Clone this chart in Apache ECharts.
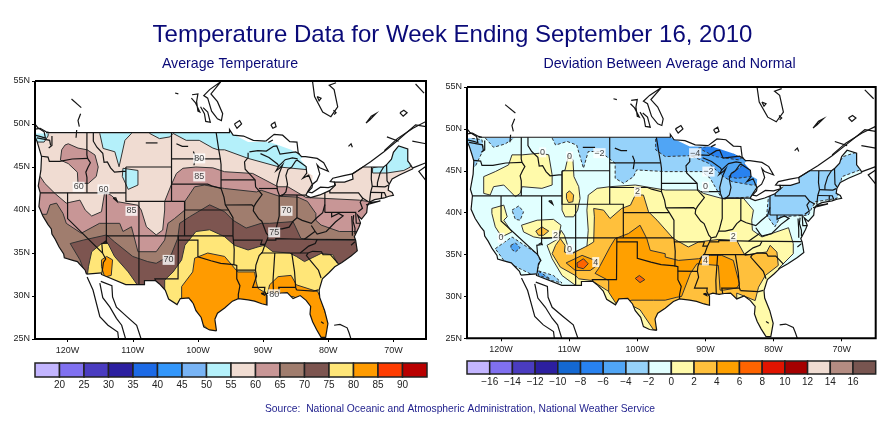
<!DOCTYPE html>
<html><head><meta charset="utf-8">
<style>html,body{margin:0;padding:0;background:#fff}#c{width:895px;height:423px}</style>
<script src="https://cdn.jsdelivr.net/npm/echarts@6/dist/echarts.min.js"></script></head>
<body><div id="c"></div>
<script>
// ---------- text ----------
const titleText='Temperature Data for Week Ending September 16, 2010';
const leftTitle='Average Temperature';
const rightTitle='Deviation Between Average and Normal';
const sourceText='Source:  National Oceanic and Atmospheric Administration, National Weather Service';
const lonTicks=[70,80,90,100,110,120];
// ---------- legends ----------
const tempTicks=[20,25,30,35,40,45,50,55,60,65,70,75,80,85,90];
const tempColors=['#C3B5FF','#8070F0','#4A3CC0','#2C1FA0','#1C6AE6','#3296FA','#78B4F5','#B4F0FA','#F0DCD2','#C89696','#A07D6E','#7D5550','#FFE678','#FF9B00','#FF3C00','#B90000'];
const devTicks=[-16,-14,-12,-10,-8,-6,-4,-2,0,2,4,6,8,10,12,14,16];
const devColors=['#C3B5FF','#8070F0','#4A3CC0','#2C1FA0','#1468D2','#2882F0','#50A5F5','#96D2FA','#E1FFFF','#FFFAAA','#FFC03C','#FFA000','#FF6400','#E11400','#A50000','#F0DCD2','#B48C82','#785550'];
// ---------- geography: [degrees west, degrees north] ----------
const pacific=[[125.2,48.9],[124.7,48.0],[124.3,47],[124.0,46.2],[124.1,44.6],[124.5,42.8],[124.2,42],[124.4,40.4],[123.8,39.3],[123,38.3],[122.5,37.8],[122.4,37.2],[121.9,36.6],[121.3,35.7],[120.6,34.9],[120.5,34.45],[119.2,34.15],[118.5,34],[118.2,33.75],[117.3,33],[117.1,32.55]];
const mexicoBorder=[[114.75,32.7],[114.8,32.5],[111.07,31.33],[108.2,31.33],[108.2,31.78],[106.5,31.78],[105.9,31.4],[105,30.65],[104.5,29.65],[103.2,29],[102.7,29.7],[101.4,29.77],[100.7,29.1],[100.3,28.3],[99.5,27.5],[99.1,26.4],[98.2,26.05],[97.15,25.95]];
const gulfAtlantic=[[97.4,27.3],[97,28],[95.9,28.6],[94.7,29.4],[93.8,29.7],[92.3,29.55],[91.3,29.4],[90.2,29.1],[89.4,28.95],[89.4,30.05],[89.6,30.2],[88.9,30.4],[88,30.25],[87.2,30.35],[86.3,30.4],[85.4,29.7],[84.3,30.05],[83.4,29.5],[82.7,28.8],[82.8,27.9],[82.4,27],[81.8,26.1],[81.1,25.2],[80.4,25.2],[80.05,26.8],[80.55,28.3],[81.3,29.8],[81.4,30.7],[80.9,32],[79.9,32.7],[79,33.4],[77.9,33.9],[76.5,34.65],[75.55,35.25],[75.8,36.5],[76,36.9],[75.3,38],[75.05,38.5],[75.5,39.4],[74.9,38.95],[74.1,39.7],[74,40.45],[73.7,40.9],[72.9,41.2],[71.4,41.4],[70.7,41.6],[70,41.7],[70.2,42.05],[70.8,42.3],[70.7,42.9],[70.2,43.6],[69,44.1],[67,44.8]];
const neBorder=[[67.4,45.3],[67.8,45.7],[67.8,47.1],[69.2,47.45],[70,46.7],[70.3,45.9],[71,45.3],[71.5,45],[74.7,45],[76.3,44.2],[76.2,43.6],[77.5,43.25],[79.05,43.25],[78.9,42.9],[79.8,42.25],[81.3,41.75],[82.7,41.45],[83.45,41.7]];
const lakeFillEdge=[[82.5,43],[82.4,44],[83.3,44.4],[83.4,45.1],[84.3,45.9],[83.9,46.2],[84.4,46.4],[85.7,47],[89,47.9],[92.3,47.9],[95.15,49]];
const outline=[...pacific,...mexicoBorder,...gulfAtlantic,...neBorder,...lakeFillEdge];
const maskShape=[[126,48.9],[126,56],[64,56],[64,24],[126,24],[126,48.9],...outline,[125.2,48.9]];
const frameShape=[[125,55],[65,55],[65,25],[125,25],[125,55]];
const geoLines=[pacific,mexicoBorder,gulfAtlantic,neBorder,
[[117.1,32.55],[114.75,32.7]],[[97.15,25.95],[97.4,27.3]],[[67,44.8],[67.4,45.3]],
[[123.3,49],[95.15,49],[95.15,49.35],[94.6,48.7],[93,48.6],[91.5,48.1],[89.6,48]],
// states
[[124,46.25],[123,46.15],[122.8,45.65],[121.2,45.65],[119.3,45.93],[116.92,46]],
[[117.03,49],[117.04,46.4],[116.92,46],[116.5,45.5],[116.85,45],[117.2,44.4],[117.03,43.8],[117.03,42]],
[[124.2,42],[111.05,42]],[[120,42],[120,39],[114.63,35],[114.15,34.3],[114.5,33.9],[114.72,32.72]],
[[114.05,42],[114.05,36.2],[114.75,36.1],[114.63,35]],[[114.05,37],[94.62,37]],[[109.05,41],[109.05,31.33]],
[[111.05,45],[104.05,45]],[[111.05,45],[111.05,41],[104.05,41]],
[[116.05,49],[116.05,48],[115.5,47.3],[114.6,46.6],[114.4,45.55],[113.9,45.6],[113.4,44.9],[112.8,44.4],[111.5,44.5],[111.05,44.5]],
[[104.05,49],[104.05,41]],[[104.05,45.94],[96.56,45.94]],[[104.05,43],[98.5,43],[97.9,42.8],[96.45,42.5]],
[[104.05,41],[102.05,41],[102.05,37]],[[102.05,40],[95.3,40]],
[[103,37],[103.05,32],[106.6,32],[106.5,31.78]],[[103,36.5],[100,36.5],[100,34.56],[98,34.1],[96.5,33.8],[94.48,33.64]],
[[94.62,37],[94.43,35.4],[94.48,33.64],[94.04,33.55],[94.04,32],[93.55,31.2],[93.8,30.2],[93.8,29.7]],[[94.04,33.02],[91.17,33]],
[[97.2,49],[96.8,47],[96.56,45.94],[96.45,45.3],[96.45,42.5],[96,41.5],[95.8,40.6],[95.3,40],[94.62,39.1],[94.62,37]],
[[96.45,43.5],[91.22,43.5]],[[95.77,40.58],[91.73,40.6],[91.42,40.38]],
[[92.3,46.66],[92.3,46.1],[92.85,45.6],[92.75,44.75],[91.22,43.5],[91.15,42.7],[90.15,41.8],[91.1,40.8],[91.42,40.38],[91.5,39.9],[90.7,39],[90.2,38.7],[89.5,37.3],[89.15,37],[89.4,36.5],[89.7,36],[90.1,35.1],[90.6,34.7],[91.1,33.6],[91.17,33],[91,32.3],[91.6,31],[89.73,31],[89.8,30.6],[89.55,30.2]],
[[94.62,36.5],[90.15,36.5],[90.37,36],[89.7,36]],[[90.65,42.5],[87.8,42.5]],[[90.4,46.55],[89.1,46.1],[87.8,45.35],[87.6,45.1]],
[[87.53,41.7],[87.53,39.3],[87.95,38],[88.05,37.8]],
[[89.15,37],[88.45,37.1],[88.05,37.8],[87.1,37.8],[86,38],[85.4,38.7],[84.8,39.1],[84,38.8],[82.6,38.45],[81.75,39.1],[80.85,39.7],[80.52,40.64]],
[[84.8,39.1],[84.8,41.75]],[[87.2,41.76],[83.45,41.73]],[[80.52,42],[80.52,39.72]],[[79.76,42.27],[79.76,42],[75.35,42],[74.7,41.36],[75.1,40.9],[74.75,40.2],[75.4,39.8]],[[74.7,41.36],[73.9,41]],
[[80.52,39.72],[75.79,39.72],[75.7,38.46],[75.05,38.46]],[[79.48,39.72],[79.48,39.2],[78.4,39.6],[77.72,39.32],[78.9,38.6],[80.3,37.5],[81.7,37.2],[82,37.5],[82.6,38.2]],
[[82,37.53],[83.67,36.6]],[[89.4,36.5],[88.05,36.5],[88.05,36.68],[83.67,36.6],[75.87,36.55]],[[81.68,36.59],[82,36.1],[83,35.8],[84.3,35]],[[90.3,35],[83.1,35],[82.4,35.2],[81.05,35.15],[80.8,34.82],[79.67,34.8],[78.55,33.85]],
[[83.1,35],[83.35,34.7],[82.6,34],[81.5,33],[81.1,32.1]],[[81.5,30.72],[82.2,30.57],[84.86,30.7]],[[85.6,35],[85.18,32.87],[85,31],[84.86,30.7]],[[85,31],[87.6,31],[87.45,30.3]],[[88.2,35],[88.47,31.9],[88.4,30.25]],
[[71.5,45],[72.05,44.3],[72.45,43.2],[72.46,42.73]],[[73.35,45],[73.4,43.6],[73.25,42.75],[73.5,42.05],[73.65,41]],[[71.05,45.3],[70.98,43.4],[70.7,43.07]],[[73.27,42.75],[71.3,42.7],[70.8,42.87]],[[73.5,42.05],[71.38,42.02],[71.1,41.5]],[[71.8,42.02],[71.85,41.32]],
// Great Lakes shores
[[92.1,46.75],[90.8,46.9],[89.5,46.85],[88.4,47.4],[87.9,47.45],[87.4,46.5],[85,46.75],[84.4,46.5]],
[[84.7,45.95],[85.5,46.05],[86.6,45.85],[87.6,45.1],[88,44.55],[87.4,44.9],[87,45.25],[87.5,44.3],[87.9,43],[87.8,42.3],[87.5,41.7],[87.1,41.65],[86.5,42.1],[86.25,43],[86.5,44],[86.2,44.7],[85.6,45],[85,45.7],[84.75,45.78],[83.4,45.05],[83.3,44.3],[83.9,43.7],[83,44.05],[82.45,43],[83.1,42.2],[83.45,41.7]],
[[89.2,47.85],[88.5,48.15]],
[[89.6,48],[88.3,48.8],[87,48.7],[85.9,47.95],[84.8,47.9],[84.6,46.6],[84.1,46.2],[83.5,46.2],[81.7,46],[80.7,45.5],[80,44.5],[81.3,44.9],[81.7,45.25],[81.3,44.2],[81.75,43.4],[82.4,43],[82.5,42.6],[83.1,42.1],[82.5,42],[81.2,42.65],[80,42.6],[79,42.85],[79.05,43.25],[79.7,43.3],[79.3,43.7],[77.6,44],[76.3,44.2],[74.7,45],[73.5,45.6],[71.4,46.8],[69.5,48],[66.6,49.9],[65,49.7]],
// Canada
[[71.4,46.9],[69.4,48.3],[67,49.5],[65,50.3]],[[71,48.5],[69.2,48]],[[67.1,48],[65,47.7]],[[67,44.9],[65,45.5]],[[65,43.4],[66.1,44.5],[65,45.1]],[[66.6,54.65],[65.3,53.6]],
[[82.4,54.9],[82.1,53.2],[80.85,51.4],[79.6,50.85],[78.55,52],[79.1,54],[79.85,54.5],[78.8,54.8]],[[81.7,53.2],[81.1,53],[81.4,52.7],[81.7,53.2]],[[79.2,51.6],[78.8,51.3],[79.1,51.1]],
[[88.8,49.9],[88.2,50.2],[88,49.7],[88.5,49.5],[88.8,49.9]],[[94.4,50],[93.6,50.4],[93.3,50],[94,49.5],[94.4,50]],
[[69,51.3],[68.4,51.6],[67.9,51.3],[68.5,50.9],[69,51.3]],[[74.2,50.1],[73.4,50.9],[72.7,51.2],[73.6,50.5],[74.2,50.1]],[[76.9,47.4],[76.5,47.7],[76.3,47.3]],
[[96.5,54.9],[98.2,54],[99.1,53.3],[98.5,53],[97.9,51.5],[97,50.6],[96.4,50.4],[96.2,51.2],[97,52.6],[98,53.5],[96.5,54.9]],[[100.9,53.4],[100,53.5],[100.2,52.6],[100,51.5],[99.7,51.4],[100.4,52.5],[101,53]],[[99.6,52],[99,51.2],[98.8,50.3],[98.1,50.2],[98.5,51.4],[99.2,51.9]],[[103.5,53.6],[103,53.5]],
[[119.4,52.9],[117.9,51.9]],[[118,51.2],[118.4,50.4],[118.2,49.7]],[[118.6,49.3],[118.7,48.4]],
[[125,49.4],[124.2,49.5],[123.3,49.1],[122.8,49]],[[125,48.7],[124,48.5],[123.4,48.35],[123.6,49.1],[124.6,49.6],[125,50]],[[124.7,48.38],[123.1,48.15],[122.75,48.1],[122.6,47.5]],[[122.4,48.6],[122.4,47.5],[122.9,47.2]],
// inland water
[[108,47.8],[106.2,47.8]],[[103.3,47.7],[102.4,47.4],[101.5,47.4]],[[100.7,46.8],[100.4,46.2],[100.6,45.2]],[[113,41.4],[112.4,41],[112.6,41.4],[113,41.4]],[[114.5,36.2],[114.1,36.4],[113.9,36.1]],[[81.1,27],[80.7,26.8]],[[90.3,30.3],[89.9,30.35],[89.8,30.1],[90.3,30.3]],
[[74.2,40.6],[72,41.05],[73.7,40.85]],[[76.4,39.3],[76.3,38],[76.3,37]],[[75.9,37.2],[75.9,37.9],[76.2,38.7],[76.1,39.4]],[[76.5,35.9],[75.9,36.3]],
// Baja, Mexico, Bahamas
[[117,32.2],[116.1,30.7],[115.05,27.6],[113.8,26.6],[112.3,25.8],[112.1,24.5]],[[115.05,31.5],[114.6,29.8],[113.5,28.7],[112.5,27.4],[111.7,26.6],[110.9,24.5]],[[114.9,31.7],[113.2,31.2],[113.1,29.9],[112.5,28.7],[110.9,27.6],[109.4,26.6],[108.5,24.5]],
[[79.1,26.6],[78.2,26.7],[77.1,26.3],[76.8,25.7],[76.3,24.5]]];
// ---------- average temperature regions: [band floor in F, boundary] ----------
const tempRegions=[
[55,[[126,56],[64,56],[64,24],[126,24]]],
[50,[[115.06,48.9],[114.55,47.16],[112.75,46.77],[112.1,45.03],[111.2,48.1],[110.2,48.9],[110.2,50],[115.06,50]]],
[50,[[125.2,49.5],[125.2,47.9],[123.6,47.9],[123,48.6],[122.9,49.5]]],
[50,[[107.4,48.9],[105.9,48.3],[104.3,48.5],[103.8,48.9],[101.8,48.1],[99.8,48.1],[97.7,47.2],[96.9,47],[95.9,47],[92.3,46],[87.5,45],[83.4,44.7],[82,44.4],[82,50],[107.4,50]]],
[50,[[111.5,44.85],[109.2,44.6],[109.2,42.9],[110.7,42.4],[111.6,43.9]]],
[50,[[71.5,45.2],[70.3,46.5],[69.4,47.5],[67.5,47.5],[67.4,45],[68.4,44.6],[71,44.3],[73.2,44.3],[73.2,44.9]]],
[60,[[120.4,47.55],[119.9,47.7],[118.4,47.2],[117,47],[115.8,46.4],[115.3,45],[115.6,43.9],[116.8,43.1],[118.4,43.1],[118.5,44.4],[119.9,45.4],[121.1,45.8],[120.9,47]]],
[60,[[126,44.2],[124.2,43.9],[123.5,43.1],[121.9,41.9],[120.2,40.8],[118.1,41.15],[117.3,40],[116.3,39.3],[114.8,39.8],[114.3,42.1],[113.3,41.7],[112.2,40.95],[109.2,40.55],[108.7,40],[107.9,38.05],[106.4,37.1],[105.4,37.67],[105.1,40],[105.1,41],[104.1,42.9],[103.3,44.25],[102.3,44.85],[100.3,45],[97.7,44.9],[95.9,44.45],[91.6,44.25],[87.7,42.7],[86.2,42.7],[83.4,41.45],[80.6,41.35],[75.25,41.15],[74,41],[72,40.8],[72,24],[126,24]]],
[65,[[126,39.5],[123.2,39.5],[122.7,40.6],[121.7,40.8],[120.7,39.6],[120.2,38.45],[117.9,37.3],[115.1,38.45],[112,38.45],[111.5,37.5],[110.2,38.05],[109.2,35.15],[106.4,35.15],[105.1,36.5],[104.6,38.45],[103.6,39],[102,40],[102,41],[100.5,42.7],[99,42.9],[95.9,42.5],[91,42.1],[90.3,42.3],[87.5,41.6],[84.7,41.5],[83.2,41],[81.9,39.6],[81.9,38.8],[81.1,38.25],[78.3,37.5],[76.3,37.5],[72,37.5],[72,24],[126,24]]],
[70,[[119.6,36.1],[117.6,36.5],[114,37.1],[112.8,36.3],[110,34.6],[107.7,34],[106.4,33.8],[104.1,34.8],[103.1,36.7],[102.8,38.45],[101.3,39.2],[98.2,40.6],[95.9,39.8],[94.6,38.8],[92.6,37.9],[90.3,38.45],[89,38.45],[85.4,38.65],[84.2,36.7],[81.6,36.5],[76.5,36.5],[72,36.5],[72,24],[117.5,24],[117.5,33],[118.1,34.2]]],
[75,[[114.8,36.1],[116.3,35.15],[116.8,33.4],[117,32.2],[117,30],[111.5,30],[109.4,31.4],[110.7,32.8],[112.8,34.6],[113.8,36.1]]],
[80,[[114.8,34.2],[114,34.6],[113.1,34.2],[113.3,32.4],[114.3,32.2],[114.8,33.4]]],
[75,[[105.1,31.85],[103.8,32.8],[102.5,34.2],[102,35.9],[100.3,37.5],[98.2,37.7],[95.9,36.9],[94.4,35.9],[92.3,35.35],[90.8,35.7],[89.8,35.9],[88.5,35.15],[85.95,35],[84.9,34.6],[83.65,34],[81.1,34.95],[79.3,34.8],[78.6,33.8],[76,33.5],[76,24],[105.1,24]]],
[80,[[102.5,29.7],[102.5,31.1],[100.8,32.8],[100.5,34.4],[98.5,35],[95.9,34.6],[93.9,32.8],[91.3,32.8],[91.05,31.65],[90.8,30.9],[89.5,30.3],[89.5,27],[97.7,25],[97.7,25.6],[99.7,27],[101,29.5]]],
[80,[[89,31.3],[87.7,32.25],[85.7,32.4],[84.9,31.3],[81.6,30.5],[81.1,29.5],[79.8,26.6],[80.3,24],[82.6,24],[85.2,29.9],[89.3,30.3]]]
];
const tempLabels=[[118.3,42.7,'60'],[114.5,42.4,'60'],[99.8,46,'80'],[99.8,43.9,'85'],[110.2,39.9,'85'],[86.4,39.9,'70'],[88.3,37.4,'75'],[104.5,34.2,'70'],[88.3,30.2,'80']];
// ---------- deviation regions: [band floor in F, boundary] ----------
const devRegions=[
[-2,[[126,56],[64,56],[64,24],[126,24]]],
[-4,[[124.3,48.9],[122.8,48.7],[122.6,47.5],[123.8,45.5],[125.2,45.8],[125.2,50],[124.3,50]]],
[-4,[[122.3,48.9],[121.1,47.8],[119.4,48.2],[118.1,48.9],[118.1,50],[122.3,50]]],
[-4,[[112.5,48.9],[112,48.07],[110.3,48.5],[108.9,48.07],[107.9,45.3],[107.2,47.3],[105.45,47.3],[103.25,45.9],[103.25,44.1],[102,43.5],[100.55,44.3],[100.1,45.1],[95.9,44.9],[90.5,44.9],[89.3,44.1],[87.6,41.7],[86.1,41.7],[83.2,41.9],[82,43.1],[82,50],[112.5,50]]],
[-4,[[80.75,41.9],[76.35,44.3],[74.9,45.1],[71.2,45.1],[69.75,46.7],[67.5,47.3],[67.3,45.1],[69.95,44.3],[70.7,41.7],[73.9,41.3],[74.9,39.7],[79,39.5],[79.8,38.3],[81,39.7]]],
[-4,[[120.85,35.7],[118.4,37.1],[114.7,35.1],[114.25,34.3],[114.7,33.1],[112.3,32.5],[111.05,31.6],[114.7,32.3],[117.2,33.3],[119.6,34.3]]],
[-4,[[118.4,40.3],[117.4,40.8],[116.7,40.1],[117.2,39.1],[117.9,39.2]]],
[-6,[[118.55,36.1],[117.9,36.4],[117.2,35.8],[117.9,35.3],[118.55,35.7]]],
[-6,[[114.5,33],[112.8,32.1],[114.5,32.5]]],
[-6,[[97.3,50],[97.3,47.5],[95.9,46.7],[92.2,46.8],[89.55,45.9],[87.35,44.3],[86.1,43.7],[83.2,43.3],[82,43.3],[82,45.1],[84.2,46.7],[86.1,48.1],[89.05,48.1],[89.05,50]]],
[-8,[[91,47.7],[88.6,48.1],[86.6,47.5],[84.7,46.5],[85.1,46.3],[88.6,46.7]]],
[-8,[[86.6,44.3],[84.2,45.9],[82.7,44.7],[83.4,44.3],[85.4,44.1]]],
[0,[[122.55,44.3],[122.55,42.3],[121.6,42.1],[121.1,43.1],[119.6,43.3],[117.9,41.9],[117.2,42.3],[116.9,43.1],[114,42.9],[112.5,43.3],[112.5,44.5],[113,46.9],[114.25,47.1],[116.9,46.9],[118.4,46.9],[118.9,45.7],[120.85,44.9]]],
[0,[[110.6,45.1],[110.1,46.9],[109.45,46.3],[109.3,44.3],[108.6,43.1],[108.4,41.7],[108.75,40.3],[109.35,39.5],[110.6,39.5],[111.05,40.3],[111.05,44.9]]],
[2,[[110.4,42.3],[109.95,42.6],[109.35,42.1],[109.45,41.3],[110.1,41.2],[110.4,41.7]]],
[0,[[121.35,40.5],[119.6,40.9],[119.1,39.5],[119.6,39.1],[118.4,37.7],[119.9,37.1],[120.85,38.3],[121.35,39.9]]],
[0,[[117,38.5],[114.7,39.1],[112.3,39.2],[111.2,38.5],[111.55,37.1],[113.75,36.9],[115.2,37.1],[116.7,37.7]]],
[2,[[114.9,37.8],[114,38.3],[113,37.8],[113.75,37.3],[114.5,37.3]]],
[0,[[108.87,31.2],[111.05,32.5],[112.5,34.5],[113.25,36.1],[111.55,36.9],[111.2,37.9],[110.7,37.3],[109.85,35.1],[107.4,35.9],[107.2,37.9],[107.4,40.3],[107.2,42.1],[105.9,42.9],[104,43.1],[100.3,43.3],[95.9,42.7],[91,42.7],[90.3,42.3],[87.6,41.7],[84.4,41.7],[82.95,40.3],[83.2,39.1],[83.1,37.9],[81.7,37.1],[77.8,38.2],[77.1,36.3],[77.1,35.1],[79.3,33.3],[76,33],[76,24],[108.87,24]]],
[2,[[109.1,32.5],[111.3,33.5],[112.5,35.1],[112,36.1],[111.3,36.9],[110.6,36.1],[110.7,35.3],[109.6,35.1],[107.2,36.1],[106.4,36.5],[106.3,39.5],[106.4,40.5],[104.95,40.3],[104,39.3],[102.3,40.5],[101,40.9],[100.3,42.1],[99.1,42.1],[98.35,40.1],[97.1,39.1],[94.7,36.9],[92.5,35.9],[91,36.5],[88.1,36.8],[85.4,36.7],[84.2,34.9],[83,35.1],[81,35.3],[80.5,36.1],[79.5,35.3],[79.3,33.7],[81.2,32.5],[82.2,31.1],[82.7,29.5],[85.4,30.4],[85.4,27],[95,26],[97.6,26],[99.6,28.4],[100.55,28.8],[104.5,30.75],[106.7,31.9],[108.6,32.1]]],
[4,[[106.2,32.75],[104.2,31.9],[104.2,30.5],[103,29],[100.8,29.55],[97.6,29.55],[95.9,29.55],[94.2,29.9],[93.5,30],[92.2,32.75],[91.25,33.9],[88.1,33.7],[87.85,30.75],[87.35,30.75],[85.4,31],[85,31.5],[85.9,34.3],[87.6,34.9],[89.3,34.9],[91,34.5],[93.95,34.3],[95.9,34.7],[95.9,35.1],[98.1,35.5],[98.6,36.9],[99.6,38.5],[101.3,37.5],[103.25,36.9],[104,35.9],[105.7,33.3]]],
[6,[[100.3,32.15],[99.7,32.5],[98.9,32],[99.6,31.65]]],
[4,[[110.45,34],[108.1,34.9],[106.2,34.3],[105.9,33.7],[106.9,33.1],[109.1,33.1]]],
[6,[[108.85,34],[107.9,34.5],[107.2,33.9],[107.9,33.3],[108.8,33.5]]]
];
const devLabels=[[105.55,47.1,'\u22122'],[91.5,47.1,'\u22124'],[89.55,44.9,'\u22122'],[90,43.1,'0'],[113.9,47.2,'0'],[109.95,46.7,'0'],[99.97,42.5,'2'],[120,37,'0'],[112,37.3,'2'],[109.95,35.6,'0'],[106.1,34.1,'4'],[85.9,37.1,'2'],[90,34.3,'4']];

// ---------- option helpers ----------
const FONT='"Liberation Sans",Arial,sans-serif';
function polySeries(idx,z,list,style,clip){
  return {type:'custom',coordinateSystem:'cartesian2d',xAxisIndex:idx,yAxisIndex:idx,z:z,clip:clip!==false,silent:true,animation:false,
    data:list.map((_,i)=>[i,i]),
    renderItem:(p,api)=>{const it=list[p.dataIndex];const s=style(it);
      const pts=s.pts.map(c=>api.coord(c));
      return {type:s.open?'polyline':'polygon',shape:{points:pts},style:s.style,silent:true};}};
}
function mapSeries(idx,regions,colorOf,labels,dash){
  return [
    polySeries(idx,2,regions,r=>({pts:r[1],style:{fill:colorOf(r[0]),stroke:'#333',lineWidth:1,lineDash:dash(r[0])}})),
    polySeries(idx,3,[maskShape],m=>({pts:m,style:{fill:'#fff',stroke:null}})),
    polySeries(idx,4,geoLines,l=>({open:true,pts:l,style:{fill:null,stroke:'#141414',lineWidth:1.2}})),
    polySeries(idx,6,[frameShape],f=>({open:true,pts:f,style:{fill:null,stroke:'#000',lineWidth:2}}),false),
    {type:'scatter',xAxisIndex:idx,yAxisIndex:idx,z:5,symbolSize:0,silent:true,animation:false,
     data:labels.map(l=>({value:[l[0],l[1]],label:{formatter:l[2]}})),
     label:{show:true,position:'inside',fontFamily:FONT,fontSize:9,color:'#111',backgroundColor:'#fff',padding:[1,1,0,1]}}
  ];
}
function legendSeries(idx,ticks,colors,step){
  const edges=[ticks[0]-step,...ticks,ticks[ticks.length-1]+step];
  const cells=colors.map((c,i)=>[edges[i],edges[i+1],c]);
  return {type:'custom',coordinateSystem:'cartesian2d',xAxisIndex:idx,yAxisIndex:idx,silent:true,animation:false,clip:false,
    data:cells.map((_,i)=>[i,i]),
    renderItem:(p,api)=>{const c=cells[p.dataIndex];const a=api.coord([c[0],1]),b=api.coord([c[1],0]);
      return {type:'rect',shape:{x:a[0],y:a[1],width:b[0]-a[0],height:b[1]-a[1]},style:{fill:c[2],stroke:'#222',lineWidth:1.5}};}};
}
const axisFont={fontFamily:FONT,fontSize:9,color:'#222'};
function mapX(i){return {gridIndex:i,type:'value',inverse:true,min:65,max:125,splitLine:{show:false},axisLine:{show:false},
  axisTick:{show:true,length:3,customValues:lonTicks,lineStyle:{color:'#000'}},
  axisLabel:{...axisFont,margin:7,customValues:lonTicks,formatter:v=>v+'W'}};}
function mapY(i){return {gridIndex:i,type:'value',min:25,max:55,interval:5,splitLine:{show:false},axisLine:{show:false},
  axisTick:{show:true,length:3,lineStyle:{color:'#000'}},axisLabel:{...axisFont,margin:5,formatter:v=>v+'N'}};}
function legX(i,min,max,interval,ticks,fmt){return {gridIndex:i,type:'value',min,max,interval,splitLine:{show:false},axisLine:{show:false},axisTick:{show:false},
  axisLabel:{...axisFont,fontSize:10,margin:3,showMinLabel:false,showMaxLabel:false,formatter:fmt}};}
function legY(i){return {gridIndex:i,type:'value',min:0,max:1,show:false};}
const navy='#0A0A78';
const option={animation:false,backgroundColor:'#fff',
  title:[
    {text:titleText,left:447.5,top:18,textAlign:'center',textStyle:{fontFamily:FONT,fontSize:24,fontWeight:'normal',color:navy}},
    {text:leftTitle,left:225,top:52.5,textAlign:'center',textStyle:{fontFamily:FONT,fontSize:14.2,fontWeight:'normal',color:navy}},
    {text:rightTitle,left:664.5,top:52.5,textAlign:'center',textStyle:{fontFamily:FONT,fontSize:14.2,fontWeight:'normal',color:navy}},
    {text:sourceText,left:455,top:399,textAlign:'center',textStyle:{fontFamily:FONT,fontSize:10.3,fontWeight:'normal',color:'#1E1E8C'}}
  ],
  grid:[
    {left:35,top:81,width:391,height:258},
    {left:467,top:87,width:408.7,height:251.3},
    {left:35,top:363,width:392,height:14},
    {left:467,top:361,width:408.7,height:13}
  ],
  xAxis:[mapX(0),mapX(1),legX(2,15,95,5,tempTicks,v=>String(v)),legX(3,-18,18,2,devTicks,v=>String(v).replace('-','\u2212'))],
  yAxis:[mapY(0),mapY(1),legY(2),legY(3)],
  series:[
    ...mapSeries(0,tempRegions,l=>tempColors[(l-15)/5],tempLabels,()=>null),
    ...mapSeries(1,devRegions,l=>devColors[(l+18)/2],devLabels,l=>l<0?[3,2]:null),
    legendSeries(2,tempTicks,tempColors,5),
    legendSeries(3,devTicks,devColors,2)
  ]};
const chart=echarts.init(document.getElementById('c'),null,{renderer:'canvas'});
chart.setOption(option);
</script></body></html>
